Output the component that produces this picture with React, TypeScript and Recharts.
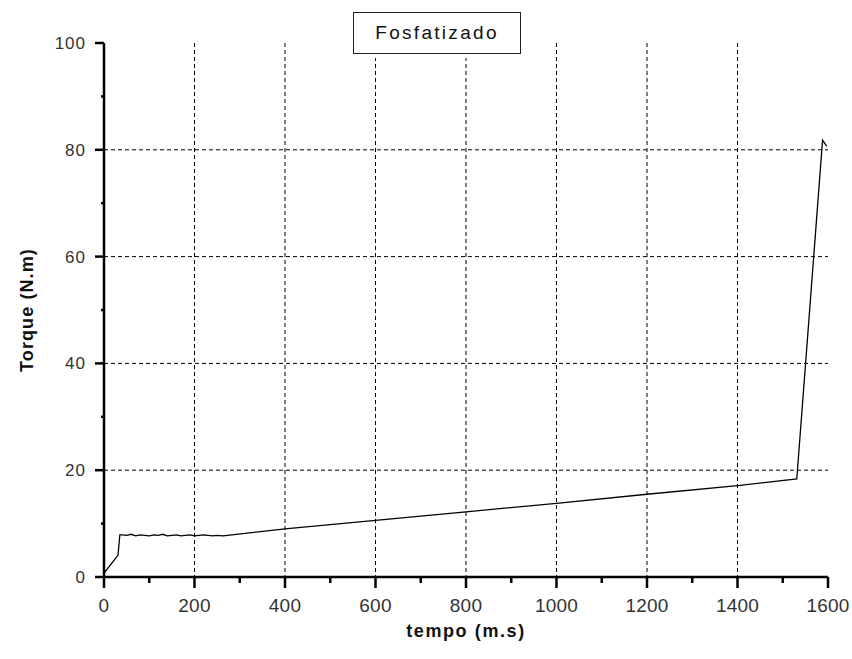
import { CartesianGrid, Line, LineChart, XAxis, YAxis } from "recharts";

const time = [
  0, 31, 35, 40, 50, 60, 70, 80, 90, 100, 110, 120, 130, 140, 150, 160, 170, 180, 190, 200,
  210, 220, 230, 240, 250, 263, 400, 600, 800, 1000, 1200, 1400, 1531, 1588, 1597,
];
const torque = [
  0.7, 4.1, 7.9, 7.9, 7.8, 8.0, 7.7, 7.9, 7.8, 7.7, 7.9, 7.8, 8.0, 7.7, 7.8, 7.9, 7.7, 7.8,
  7.9, 7.7, 7.8, 7.9, 7.8, 7.7, 7.8, 7.7, 9.0, 10.6, 12.2, 13.8, 15.5, 17.1, 18.35, 81.8, 80.7,
];

const xTicks = [0, 100, 200, 300, 400, 500, 600, 700, 800, 900, 1000, 1100, 1200, 1300, 1400, 1500, 1600];
const yTicks = [0, 10, 20, 30, 40, 50, 60, 70, 80, 90, 100];
const xGrid = [200, 400, 600, 800, 1000, 1200, 1400];
const yGrid = [20, 40, 60, 80];

const data = time.map((t, i) => ({ t, v: torque[i] }));

const font = "'Liberation Sans', Arial, sans-serif";

function XTick({ x, y, payload }: any) {
  const major = payload.value % 200 === 0;
  return (
    <g>
      <line x1={x} x2={x} y1={y} y2={y + (major ? 11 : 6)} stroke="#000" strokeWidth={2.5} />
      {major && (
        <text x={x} y={y + 35} textAnchor="middle" fontSize={19} letterSpacing={0.2} fill="#333" fontFamily={font}>
          {payload.value}
        </text>
      )}
    </g>
  );
}

function YTick({ x, y, payload }: any) {
  const major = payload.value % 20 === 0;
  return (
    <g>
      <line x1={x} x2={x - (major ? 9 : 3)} y1={y} y2={y} stroke="#000" strokeWidth={2.5} />
      {major && (
        <text x={x - 18} y={y + 6} textAnchor="end" fontSize={17} letterSpacing={1} fill="#333" fontFamily={font}>
          {payload.value}
        </text>
      )}
    </g>
  );
}

export default function App() {
  return (
    <div style={{ position: "absolute", left: 0, top: 0, width: 852, height: 659, background: "#fff" }}>
      <style>{"body{margin:0}"}</style>
      <LineChart width={852} height={659} data={data} margin={{ top: 43, right: 24, bottom: 0, left: 0 }}>
        <CartesianGrid
          horizontalValues={yGrid}
          verticalValues={xGrid}
          stroke="#000"
          strokeDasharray="4 3"
          strokeWidth={1}
        />
        <XAxis
          dataKey="t"
          type="number"
          domain={[0, 1600]}
          ticks={xTicks}
          interval={0}
          height={82}
          tickSize={0}
          tickMargin={0}
          tickLine={false}
          tick={<XTick />}
          axisLine={{ stroke: "#000", strokeWidth: 2.5 }}
        />
        <YAxis
          type="number"
          domain={[0, 100]}
          ticks={yTicks}
          interval={0}
          width={104}
          tickSize={0}
          tickMargin={0}
          tickLine={false}
          tick={<YTick />}
          axisLine={{ stroke: "#000", strokeWidth: 2.5 }}
        />
        <Line
          dataKey="v"
          type="linear"
          stroke="#000"
          strokeWidth={1.3}
          dot={false}
          isAnimationActive={false}
        />
      </LineChart>
      <div
        style={{
          position: "absolute",
          left: 353,
          top: 12,
          width: 168,
          height: 42,
          boxSizing: "border-box",
          border: "1.5px solid #222",
          boxShadow: "0 0 0 4px #fff",
          background: "#fff",
          display: "flex",
          alignItems: "center",
          justifyContent: "center",
          fontFamily: font,
          fontSize: 19,
          letterSpacing: 2.3,
          color: "#111",
        }}
      >
        Fosfatizado
      </div>
      <div
        style={{
          position: "absolute",
          left: 366,
          top: 621,
          width: 200,
          textAlign: "center",
          fontFamily: font,
          fontWeight: "bold",
          fontSize: 18,
          letterSpacing: 1.6,
          color: "#111",
        }}
      >
        tempo (m.s)
      </div>
      <div
        style={{
          position: "absolute",
          left: 27,
          top: 310,
          width: 200,
          transform: "translate(-50%, -50%) rotate(-90deg)",
          textAlign: "center",
          fontFamily: font,
          fontWeight: "bold",
          fontSize: 18,
          letterSpacing: 1.1,
          color: "#111",
        }}
      >
        Torque (N.m)
      </div>
    </div>
  );
}
